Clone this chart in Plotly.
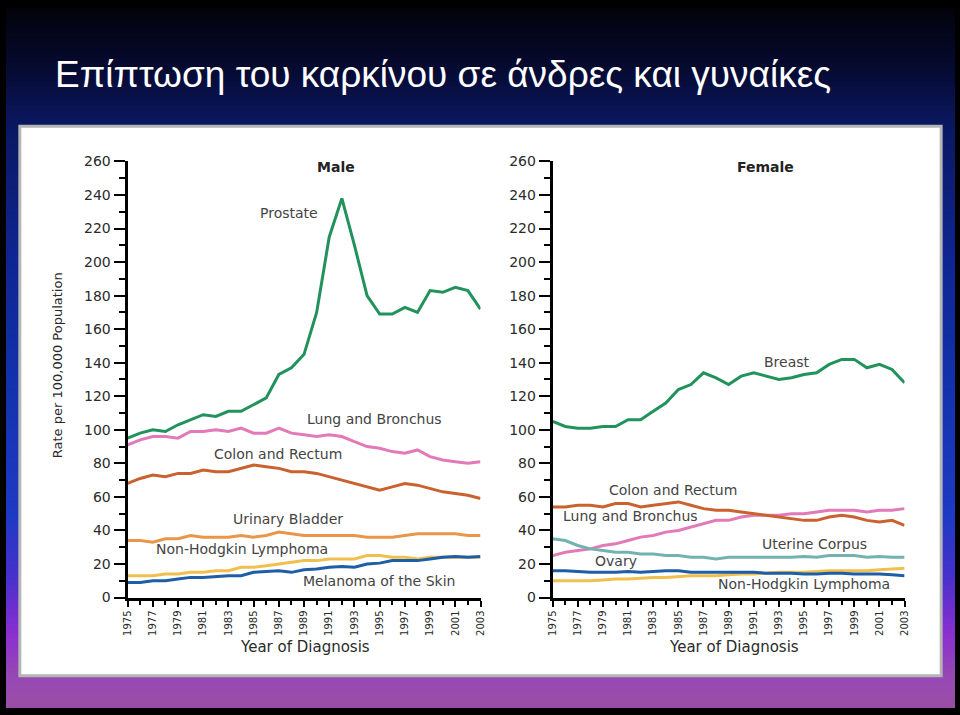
import plotly.graph_objects as go

W, H = 960, 715

years = list(range(1975, 2004))

# ---- Male series ----
male_prostate = [95, 98, 100, 99, 103, 106, 109, 108, 111, 111, 115, 119, 133, 137, 145, 170, 215, 238, 210, 180,
                 169, 169, 173, 170, 183, 182, 185, 183, 172]
male_lung = [91, 94, 96, 96, 95, 99, 99, 100, 99, 101, 98, 98, 101, 98, 97, 96, 97, 96, 93, 90,
             89, 87, 86, 88, 84, 82, 81, 80, 81]
male_colon = [68, 71, 73, 72, 74, 74, 76, 75, 75, 77, 79, 78, 77, 75, 75, 74, 72, 70, 68, 66,
              64, 66, 68, 67, 65, 63, 62, 61, 59]
male_bladder = [34, 34, 33, 35, 35, 37, 36, 36, 36, 37, 36, 37, 39, 38, 37, 37, 37, 37, 37, 36,
                36, 36, 37, 38, 38, 38, 38, 37, 37]
male_nhl = [13, 13, 13, 14, 14, 15, 15, 16, 16, 18, 18, 19, 20, 21, 22, 22, 23, 23, 23, 25,
            25, 24, 24, 23, 24, 24, 24, 24, 24]
male_melanoma = [9, 9, 10, 10, 11, 12, 12, 12.5, 13, 13, 15, 15.5, 16, 15, 16.5, 17, 18, 18.5, 18, 20,
                 20.5, 22, 22, 22, 23, 24, 24.5, 24, 24.5]

# ---- Female series ----
female_breast = [105, 102, 101, 101, 102, 102, 106, 106, 111, 116, 124, 127, 134, 131, 127, 132, 134, 132, 130, 131,
                 133, 134, 139, 142, 142, 137, 139, 136, 128]
female_colon = [54, 54, 55, 55, 54, 56, 56, 54, 55, 56, 57, 55, 53, 52, 52, 51, 50, 49, 48, 47,
                46, 46, 48, 49, 48, 46, 45, 46, 43]
female_lung = [25, 27, 28, 29, 31, 32, 34, 36, 37, 39, 40, 42, 44, 46, 46, 48, 49, 49, 49, 50,
               50, 51, 52, 52, 52, 51, 52, 52, 53]
female_uterine = [35, 34, 31, 29, 28, 27, 27, 26, 26, 25, 25, 24, 24, 23, 24, 24, 24, 24, 24, 24,
                  24.5, 24, 25, 25, 25, 24, 24.5, 24, 24]
female_ovary = [16, 16, 15.5, 15, 15, 15, 15.5, 15, 15.5, 16, 16, 15, 15, 15, 15, 15, 15, 14.5, 14.5, 14.5,
                14, 14, 14.5, 14.5, 14, 14, 14, 13.5, 13]
female_nhl = [10, 10, 10, 10, 10.5, 11, 11, 11.5, 12, 12, 12.5, 13, 13, 13, 13.5, 14, 14, 14.5, 15, 15,
              15, 15.5, 16, 16, 16, 16, 16.5, 17, 17.5]

y_ticks = list(range(0, 261, 20))
x_ticks = list(range(1975, 2004, 2))

GREEN = "#21925c"
PINK = "#e27ab8"
DKORANGE = "#c9622e"
ORANGE = "#e8974a"
YELLOW = "#efc04e"
BLUE = "#1d5ea6"
TEAL = "#72b3b2"


def px(x):
    return x / W


def py(y):
    return 1 - y / H


fig = go.Figure()

male = [(male_prostate, GREEN), (male_lung, PINK), (male_colon, DKORANGE), (male_bladder, ORANGE),
        (male_nhl, YELLOW), (male_melanoma, BLUE)]
female = [(female_breast, GREEN), (female_lung, PINK), (female_colon, DKORANGE), (female_uterine, TEAL),
          (female_nhl, YELLOW), (female_ovary, BLUE)]

for vals, col in male:
    fig.add_trace(go.Scatter(x=years, y=vals, mode="lines", line=dict(color=col, width=3),
                             xaxis="x", yaxis="y", showlegend=False, hoverinfo="skip"))
for vals, col in female:
    fig.add_trace(go.Scatter(x=years, y=vals, mode="lines", line=dict(color=col, width=3),
                             xaxis="x2", yaxis="y2", showlegend=False, hoverinfo="skip"))

FONT = "DejaVu Sans"
TICKCOL = "#2a2a2a"

xax = dict(range=[1975, 2003], tickvals=x_ticks, ticktext=[str(v) for v in x_ticks], tickangle=-90,
           ticks="outside", ticklen=6, tickwidth=1.5, tickcolor="black",
           minor=dict(tickvals=years, ticks="outside", ticklen=4, tickwidth=1.5, tickcolor="black"),
           showline=True, linecolor="black", linewidth=3, showgrid=False, zeroline=False,
           tickfont=dict(family=FONT, size=10, color=TICKCOL), fixedrange=True)
yax = dict(range=[0, 260], tickvals=y_ticks, ticks="outside", ticklen=11, tickwidth=1.5, tickcolor="black",
           minor=dict(dtick=10, ticks="outside", ticklen=6, tickwidth=1.5, tickcolor="black"),
           showline=True, linecolor="black", linewidth=3, showgrid=False, zeroline=False,
           tickfont=dict(family=FONT, size=14, color=TICKCOL), fixedrange=True)

ydom = [py(603), py(157)]
fig.update_layout(
    width=W, height=H, autosize=False,
    margin=dict(l=0, r=0, t=0, b=0),
    paper_bgcolor="#000000", plot_bgcolor="rgba(0,0,0,0)",
    xaxis=dict(xax, domain=[px(123), px(480)], anchor="y"),
    yaxis=dict(yax, domain=ydom, anchor="x"),
    xaxis2=dict(xax, domain=[px(553), px(909)], anchor="y2"),
    yaxis2=dict(yax, domain=ydom, anchor="x2"),
)

# ---- background gradient bands ----
stops = [(0, (2, 2, 10)), (60, (6, 10, 48)), (120, (10, 24, 96)), (250, (14, 37, 144)),
         (400, (20, 51, 176)), (520, (30, 58, 196)), (580, (70, 48, 204)), (640, (138, 47, 208)),
         (680, (149, 72, 181)), (715, (154, 78, 166))]


def color_at(y):
    for (y0, c0), (y1, c1) in zip(stops[:-1], stops[1:]):
        if y0 <= y <= y1:
            t = (y - y0) / (y1 - y0) if y1 > y0 else 0
            return "rgb(%d,%d,%d)" % tuple(round(a + (b - a) * t) for a, b in zip(c0, c1))
    return "rgb(154,78,166)"


shapes = []
step = 5
for y0 in range(0, H, step):
    shapes.append(dict(type="rect", xref="paper", yref="paper", x0=0, x1=1, y0=py(y0 + step + 1), y1=py(y0),
                       fillcolor=color_at(y0 + step / 2), line=dict(width=0), layer="below"))
# white frame
shapes.append(dict(type="rect", xref="paper", yref="paper", x0=px(14), x1=px(946), y0=py(683), y1=py(121),
                   fillcolor="white", line=dict(color="#b5b5b5", width=3), layer="below"))
fig.update_layout(shapes=shapes)

LAB = "#444444"
ann = []


def add(text, x, y, size=14, color=LAB, bold=False, angle=0, family=FONT, xanchor="center"):
    ann.append(dict(text=("<b>%s</b>" % text) if bold else text, x=px(x), y=py(y), xref="paper", yref="paper",
                    showarrow=False, font=dict(family=family, size=size, color=color), textangle=angle,
                    xanchor=xanchor, yanchor="middle"))


add("Επίπτωση του καρκίνου σε άνδρες και γυναίκες", 48, 68, size=37, color="white",
    family="Liberation Sans", xanchor="left")
add("Male", 334, 163, size=14, color="#222222", bold=True)
add("Female", 768, 163, size=14, color="#222222", bold=True)
add("Rate per 100,000 Population", 52, 365, size=13, color=TICKCOL, angle=-90)
add("Year of Diagnosis", 302, 654, size=15, color=TICKCOL)
add("Year of Diagnosis", 736, 654, size=15, color=TICKCOL)

add("Prostate", 286, 210)
add("Lung and Bronchus", 373, 420)
add("Colon and Rectum", 275, 456)
add("Urinary Bladder", 285, 523)
add("Non-Hodgkin Lymphoma", 239, 553)
add("Melanoma of the Skin", 377, 586)

add("Breast", 790, 362)
add("Colon and Rectum", 675, 493)
add("Lung and Bronchus", 632, 520)
add("Uterine Corpus", 818, 548)
add("Ovary", 617, 566)
add("Non-Hodgkin Lymphoma", 807, 589)

fig.update_layout(annotations=ann)

fig.write_html("out.html")
